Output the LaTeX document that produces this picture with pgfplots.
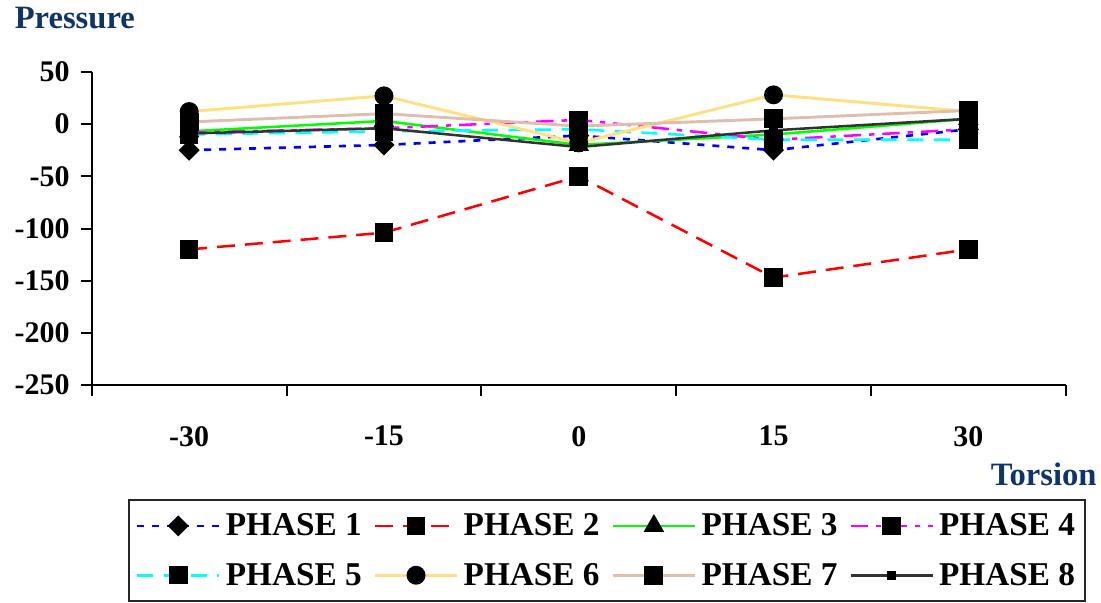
\documentclass[border=0pt]{standalone}
\usepackage{fontspec}
\setmainfont{Liberation Serif}
\usepackage{pgfplots}
\pgfplotsset{compat=1.18}
\definecolor{navy}{RGB}{16,52,104}
\definecolor{gold}{RGB}{255,224,128}
\definecolor{tan7}{RGB}{222,190,172}
\definecolor{dk8}{RGB}{50,50,50}
\definecolor{c1}{RGB}{0,0,255}
\definecolor{c2}{RGB}{255,0,0}
\definecolor{c3}{RGB}{0,255,0}
\definecolor{c4}{RGB}{255,0,255}
\definecolor{c5}{RGB}{0,255,255}
\begin{document}
\begin{tikzpicture}[font=\bfseries]
\begin{axis}[
 at={(0,0)}, anchor=south west,
 scale only axis, width=732pt, height=235.5pt,
 xmin=-37.5, xmax=37.5, ymin=-250, ymax=50,
 axis lines=left, axis line style={-, line width=1.5pt, black},
 xtick={-30,-15,0,15,30}, xticklabels={-30,-15,0,15,30},
 minor xtick={-37.5,-22.5,-7.5,7.5,22.5,37.5},
 ytick={-250,-200,-150,-100,-50,0,50}, yticklabels={-250,-200,-150,-100,-50,0,50},
 tick align=outside, major tick length=8.25pt, minor tick length=8.25pt,
 tick style={line width=1.5pt, black},
 major x tick style={draw=none},
 xticklabel style={font=\fontsize{22.5}{25}\selectfont\bfseries, yshift=-19pt},
 yticklabel style={font=\fontsize{22.5}{25}\selectfont\bfseries, xshift=-5pt},
 clip=false,
 legend columns=4,
 legend image code/.code={\draw[mark repeat=2,mark phase=2] plot coordinates {(0pt,0pt) (30.75pt,0pt) (61.5pt,0pt)};},
 legend style={at={(axis description cs:0.0369,-0.3631)}, anchor=north west,
   draw=black!85, line width=1.5pt, font=\fontsize{25}{27}\selectfont\bfseries,
   inner xsep=5.5pt, inner ysep=8.5pt, row sep=15pt,
   nodes={inner sep=2pt},
   /tikz/every odd column/.append style={column sep=2pt},
   /tikz/every even column/.append style={column sep=7pt},
   cells={anchor=west}},
 every axis plot/.append style={mark options={solid, fill=black, draw=black}},
]
\addplot[c1, line width=2pt, dash pattern=on 5.25pt off 6pt, mark=square*, mark size=4.6pt, mark options={solid, rotate=45, fill=black, draw=black}] coordinates {(-30,-25) (-15,-20) (0,-11) (15,-25) (30,-5)};
\addlegendentry{PHASE 1}
\addplot[c2, line width=1.9pt, dash pattern=on 13.5pt off 7.5pt, mark=square*, mark size=6pt] coordinates {(-30,-120) (-15,-104) (0,-50) (15,-147) (30,-120)};
\addlegendentry{PHASE 2}
\addplot[c3, line width=1.9pt, mark=triangle*, mark size=7pt] coordinates {(-30,-7) (-15,3) (0,-20) (15,-10) (30,5)};
\addlegendentry{PHASE 3}
\addplot[c4, line width=1.9pt, dash pattern=on 13pt off 6pt on 4pt off 6pt, mark=square*, mark size=6pt] coordinates {(-30,-8) (-15,-4) (0,4) (15,-15) (30,-5)};
\addlegendentry{PHASE 4}
\addplot[c5, line width=1.9pt, dash pattern=on 12pt off 8pt, mark=square*, mark size=6pt] coordinates {(-30,-10) (-15,-7) (0,-5) (15,-15) (30,-15)};
\addlegendentry{PHASE 5}
\addplot[gold, line width=2.2pt, mark=*, mark size=6pt] coordinates {(-30,12) (-15,27) (0,-18) (15,28) (30,12)};
\addlegendentry{PHASE 6}
\addplot[tan7, line width=2.2pt, mark=square*, mark size=6pt] coordinates {(-30,2) (-15,10) (0,-2) (15,5) (30,13)};
\addlegendentry{PHASE 7}
\addplot[dk8, line width=1.9pt, mark=square*, mark size=2.5pt] coordinates {(-30,-9) (-15,-4) (0,-22) (15,-6) (30,5)};
\addlegendentry{PHASE 8}
\end{axis}
\begin{scope}[x=0.75pt,y=0.75pt]
\node[text=navy, font=\fontsize{24.5}{27}\selectfont\bfseries] at (-17,368) {Pressure};
\node[text=navy, font=\fontsize{24.5}{27}\selectfont\bfseries] at (954,-89) {Torsion};
\path (-92,386) rectangle (1009,-213);
\end{scope}
\end{tikzpicture}
\end{document}
